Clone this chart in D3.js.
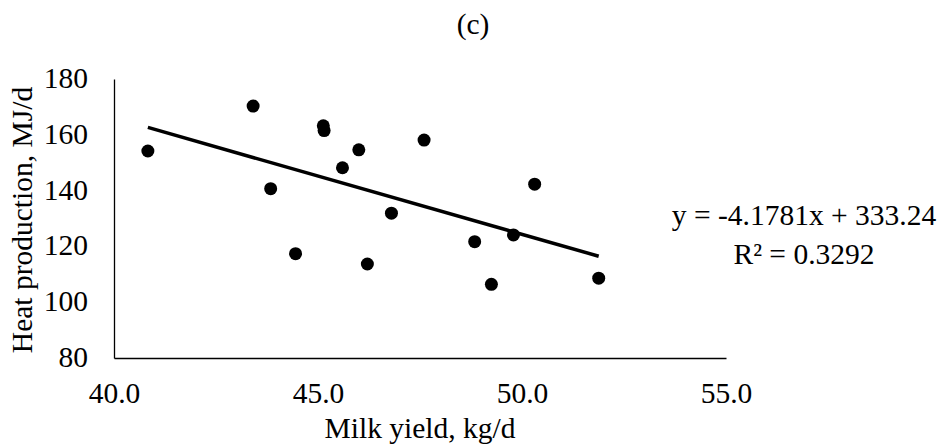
<!DOCTYPE html>
<html>
<head>
<meta charset="utf-8">
<script src="https://cdn.jsdelivr.net/npm/d3@7"></script>
<style>
  html, body { margin: 0; padding: 0; background: #fff; }
  svg { display: block; }
  text { font-family: "Liberation Serif", "Times New Roman", serif; fill: #000; }
</style>
</head>
<body>
<svg id="chart" width="938" height="447"></svg>
<script>
// Milk yield (kg/d) and heat production (MJ/d) per cow
const milkYield = [40.83, 43.41, 45.13, 45.15, 47.60, 46.00, 45.60, 43.84, 46.80, 44.45, 46.21, 50.31, 48.84, 49.79, 49.25, 51.88];
const heatProd  = [154.2, 170.3, 163.2, 161.5, 158.1, 154.6, 148.2, 140.7, 131.9, 117.4, 113.7, 142.3, 121.7, 124.1, 106.4, 108.6];

// Linear trend fitted to the points
const slope = -4.1781;
const intercept = 333.24;
const rSquared = 0.3292;

const xTicks = [40, 45, 50, 55];
const yTicks = [80, 100, 120, 140, 160, 180];

const title = "(c)";
const xTitle = "Milk yield, kg/d";
const yTitle = "Heat production, MJ/d";

const svg = d3.select("#chart");
const FS = 29.5;
const FONT = '"Liberation Serif", "Times New Roman", serif';

const x = d3.scaleLinear().domain([40, 55]).range([114, 726]);
const y = d3.scaleLinear().domain([80, 180]).range([358, 79]);

// Axes: plain lines with labels, no tick marks
const xAxis = d3.axisBottom(x).tickValues(xTicks).tickFormat(d3.format(".1f")).tickSize(0).tickPadding(24);
const yAxis = d3.axisLeft(y).tickValues(yTicks).tickFormat(d3.format("d")).tickSize(0).tickPadding(26);

const gx = svg.append("g").attr("transform", `translate(0,${y(80)})`).call(xAxis);
const gy = svg.append("g").attr("transform", `translate(${x(40)},0)`).call(yAxis);

[gx, gy].forEach(g => {
  g.select(".domain").attr("stroke", "#000").attr("stroke-width", 1.3);
  g.selectAll(".tick text")
    .style("font-family", FONT)
    .style("font-size", FS + "px")
    .attr("fill", "#000");
});
gy.selectAll(".tick text").attr("dy", "0.29em");
gx.selectAll(".tick text").attr("dy", "0.71em");

// Trend line across the observed range
const xs = d3.extent(milkYield);
const line = d3.line().x(d => x(d[0])).y(d => y(d[1]));
svg.append("path")
  .datum(xs.map(v => [v, slope * v + intercept]))
  .attr("d", line)
  .attr("fill", "none")
  .attr("stroke", "#000")
  .attr("stroke-width", 3.5);

// Data points
svg.append("g")
  .selectAll("circle")
  .data(milkYield.map((v, i) => [v, heatProd[i]]))
  .join("circle")
  .attr("cx", d => x(d[0]))
  .attr("cy", d => y(d[1]))
  .attr("r", 6.5)
  .attr("fill", "#000");

// Titles
svg.append("text")
  .attr("x", 473).attr("y", 34)
  .attr("text-anchor", "middle")
  .style("font-size", FS + "px")
  .text(title);

svg.append("text")
  .attr("x", 420).attr("y", 438)
  .attr("text-anchor", "middle")
  .style("font-size", FS + "px")
  .text(xTitle);

svg.append("text")
  .attr("transform", `translate(32,220) rotate(-90)`)
  .attr("text-anchor", "middle")
  .style("font-size", FS + "px")
  .text(yTitle);

// Regression equation label
const eq = svg.append("text")
  .attr("text-anchor", "middle")
  .style("font-size", FS + "px");
eq.append("tspan").attr("x", 804).attr("y", 225)
  .text(`y = ${slope}x + ${intercept.toFixed(2)}`);
eq.append("tspan").attr("x", 804).attr("y", 264)
  .text(`R² = ${rSquared}`);
</script>
</body>
</html>
